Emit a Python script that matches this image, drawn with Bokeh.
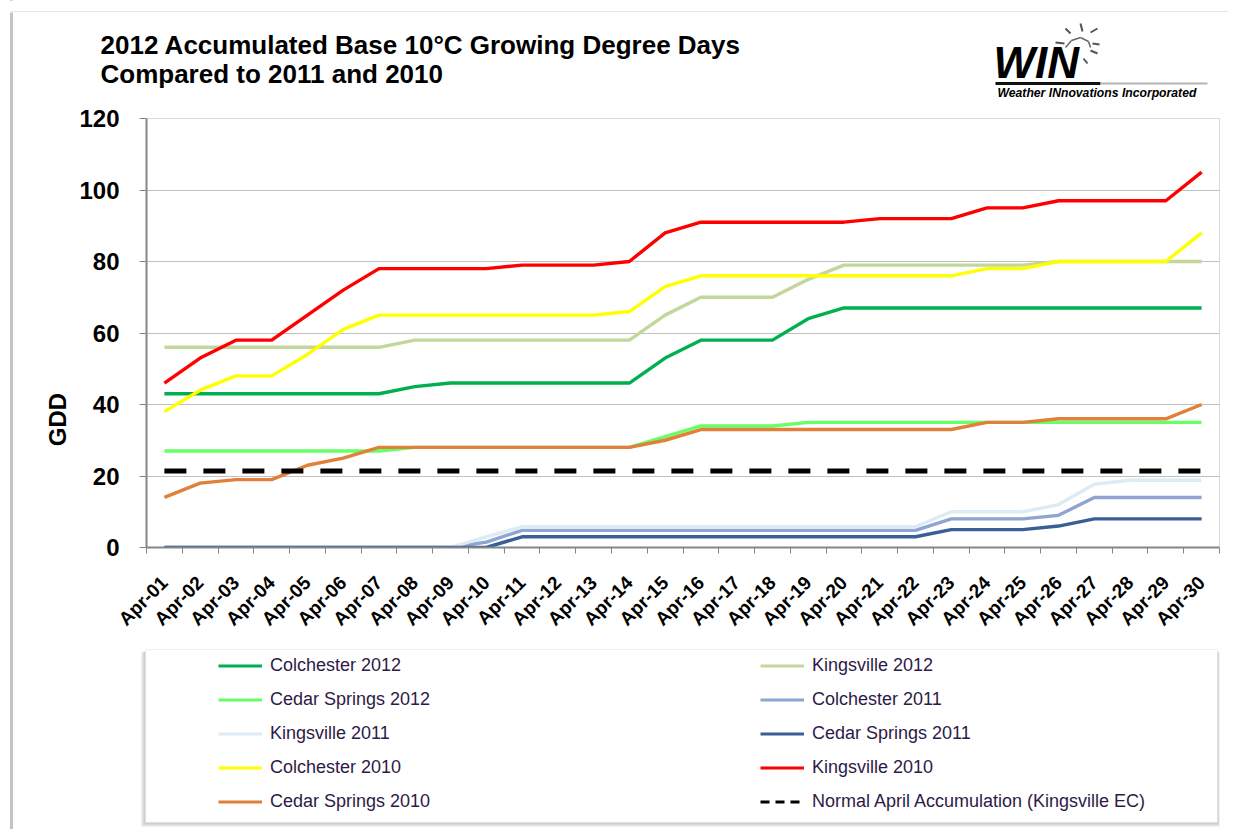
from bokeh.plotting import figure
from bokeh.models import Range1d, FixedTicker, Label, Legend, LegendItem, Arrow, BoxAnnotation
from bokeh.layouts import column, row
from bokeh.embed import file_html
from bokeh.resources import INLINE
import math

# ---------------- data ----------------
days = ["Apr-01", "Apr-02", "Apr-03", "Apr-04", "Apr-05", "Apr-06", "Apr-07", "Apr-08",
        "Apr-09", "Apr-10", "Apr-11", "Apr-12", "Apr-13", "Apr-14", "Apr-15", "Apr-16",
        "Apr-17", "Apr-18", "Apr-19", "Apr-20", "Apr-21", "Apr-22", "Apr-23", "Apr-24",
        "Apr-25", "Apr-26", "Apr-27", "Apr-28", "Apr-29", "Apr-30"]

colchester_2012 = [43, 43, 43, 43, 43, 43, 43, 45, 46, 46, 46, 46, 46, 46, 53,
                   58, 58, 58, 64, 67, 67, 67, 67, 67, 67, 67, 67, 67, 67, 67]
kingsville_2012 = [56, 56, 56, 56, 56, 56, 56, 58, 58, 58, 58, 58, 58, 58, 65,
                   70, 70, 70, 75, 79, 79, 79, 79, 79, 79, 80, 80, 80, 80, 80]
cedar_springs_2012 = [27, 27, 27, 27, 27, 27, 27, 28, 28, 28, 28, 28, 28, 28, 31,
                      34, 34, 34, 35, 35, 35, 35, 35, 35, 35, 35, 35, 35, 35, 35]
colchester_2011 = [0, 0, 0, 0, 0, 0, 0, 0, 0, 1.5, 4.8, 4.8, 4.8, 4.8, 4.8,
                   4.8, 4.8, 4.8, 4.8, 4.8, 4.8, 4.8, 8, 8, 8, 9, 14, 14, 14, 14]
kingsville_2011 = [0, 0, 0, 0, 0, 0, 0, 0, 0, 3, 5.8, 5.8, 5.8, 5.8, 5.8,
                   5.8, 5.8, 5.8, 5.8, 5.8, 5.8, 5.8, 10, 10, 10, 12, 17.7, 18.8, 18.8, 18.8]
cedar_springs_2011 = [0, 0, 0, 0, 0, 0, 0, 0, 0, 0, 3, 3, 3, 3, 3,
                      3, 3, 3, 3, 3, 3, 3, 5, 5, 5, 6, 8, 8, 8, 8]
colchester_2010 = [38, 44, 48, 48, 54, 61, 65, 65, 65, 65, 65, 65, 65, 66, 73,
                   76, 76, 76, 76, 76, 76, 76, 76, 78, 78, 80, 80, 80, 80, 88]
kingsville_2010 = [46, 53, 58, 58, 65, 72, 78, 78, 78, 78, 79, 79, 79, 80, 88,
                   91, 91, 91, 91, 91, 92, 92, 92, 95, 95, 97, 97, 97, 97, 105]
cedar_springs_2010 = [14, 18, 19, 19, 23, 25, 28, 28, 28, 28, 28, 28, 28, 28, 30,
                      33, 33, 33, 33, 33, 33, 33, 33, 35, 35, 36, 36, 36, 36, 40]
normal_april = [21.4, 21.4, 21.4, 21.4, 21.4, 21.4, 21.4, 21.4, 21.4, 21.4,
                21.4, 21.4, 21.4, 21.4, 21.4, 21.4, 21.4, 21.4, 21.4, 21.4,
                21.4, 21.4, 21.4, 21.4, 21.4, 21.4, 21.4, 21.4, 21.4, 21.4]

series_names = ["Colchester 2012", "Kingsville 2012", "Cedar Springs 2012",
                "Colchester 2011", "Kingsville 2011", "Cedar Springs 2011",
                "Colchester 2010", "Kingsville 2010", "Cedar Springs 2010"]
series_values = [colchester_2012, kingsville_2012, cedar_springs_2012,
                 colchester_2011, kingsville_2011, cedar_springs_2011,
                 colchester_2010, kingsville_2010, cedar_springs_2010]
series_colors = ["#00B050", "#C3D69B", "#66FF66",
                 "#8EA4D2", "#DCEBF4", "#3A5F96",
                 "#FFFF00", "#FF0000", "#E0803A"]
normal_name = "Normal April Accumulation (Kingsville EC)"
y_ticks = [0, 20, 40, 60, 80, 100, 120]

FONT = "Liberation Sans"
W = 1228


def seg(fig, x0, y0, x1, y1, color, width):
    fig.add_layout(Arrow(x_start=x0, y_start=y0, x_end=x1, y_end=y1,
                         start_units="screen", end_units="screen", end=None,
                         line_color=color, line_width=width))


def screen_box(fig, l, r, b, t, fill, line=None):
    fig.add_layout(BoxAnnotation(left=l, right=r, bottom=b, top=t,
                                 left_units="screen", right_units="screen",
                                 bottom_units="screen", top_units="screen",
                                 fill_color=fill, fill_alpha=1, line_color=line,
                                 line_width=1))


def blank(fig):
    fig.grid.visible = False
    fig.outline_line_color = None
    fig.background_fill_alpha = 0
    fig.border_fill_alpha = 0


# ---------------- header (title + logo) ----------------
p0 = figure(width=W, height=106, output_backend="svg", toolbar_location=None,
            x_range=Range1d(0, 1), y_range=Range1d(0, 1),
            x_axis_type=None, y_axis_type=None, min_border=0,
            min_border_left=0, min_border_right=0, min_border_top=0, min_border_bottom=0)
blank(p0)
screen_box(p0, 0, 20, 94, 106, "white")
seg(p0, 10, 95, W, 95, "#e6e6e6", 1)
p0.add_layout(Label(x=100, y=62, x_units="screen", y_units="screen",
                    text="2012 Accumulated Base 10°C Growing Degree Days",
                    text_font=FONT, text_font_style="bold", text_font_size="26px",
                    text_color="black", text_baseline="alphabetic"))
p0.add_layout(Label(x=100, y=33, x_units="screen", y_units="screen",
                    text="Compared to 2011 and 2010",
                    text_font=FONT, text_font_style="bold", text_font_size="26px",
                    text_color="black", text_baseline="alphabetic"))
p0.add_layout(Label(x=993, y=44, x_units="screen", y_units="screen", text="WIN",
                    text_font=FONT, text_font_style="bold italic", text_font_size="44px",
                    text_color="black", text_baseline="alphabetic"))
p0.add_layout(Label(x=997, y=14, x_units="screen", y_units="screen",
                    text="Weather INnovations Incorporated",
                    text_font=FONT, text_font_style="bold italic", text_font_size="12.2px",
                    text_color="black", text_baseline="alphabetic"))
seg(p0, 995, 23, 1100, 23, "#111111", 3)
seg(p0, 1100, 23, 1207, 23, "#b5b5b5", 2)
rays = [(1080, 83, 1082, 75), (1065, 78, 1070, 73), (1055, 64, 1064, 63),
        (1090, 74, 1097, 78), (1092, 63, 1099, 62), (1090, 56, 1097, 53),
        (1083, 48, 1087, 43)]
for r in rays:
    seg(p0, r[0], r[1], r[2], r[3], "#555555", 2)
arc = [(1065, 59, 1071, 66), (1071, 66, 1080, 69), (1080, 69, 1088, 65), (1088, 65, 1090, 59)]
for a in arc:
    seg(p0, a[0], a[1], a[2], a[3], "#666666", 1.5)

# ---------------- left strip (axis title) ----------------
pl = figure(width=75, height=542, output_backend="svg", toolbar_location=None,
            x_range=Range1d(0, 1), y_range=Range1d(0, 1),
            x_axis_type=None, y_axis_type=None, min_border=0,
            min_border_left=0, min_border_right=0, min_border_top=0, min_border_bottom=0)
blank(pl)
pl.add_layout(Label(x=57, y=128, x_units="screen", y_units="screen", text="GDD",
                    angle=math.pi / 2, text_align="center", text_baseline="middle",
                    text_font=FONT, text_font_style="bold", text_font_size="24px",
                    text_color="black"))

# ---------------- main figure ----------------
x_pos = [i + 1 for i in range(len(days))]
x_bounds = [i + 0.5 for i in range(len(days) + 1)]

p = figure(width=W - 75, height=542, output_backend="svg", toolbar_location=None,
           x_range=Range1d(0.5, len(days) + 0.5), y_range=Range1d(0, 120),
           min_border_left=71, min_border_right=9, min_border_top=12,
           min_border_bottom=101)
p.background_fill_color = "white"
p.border_fill_color = "white"
p.outline_line_color = "#d9d9d9"

p.xgrid.visible = False
p.ygrid.ticker = FixedTicker(ticks=y_ticks)
p.ygrid.grid_line_color = "#c0c0c0"
p.ygrid.grid_line_width = 1

xa = p.xaxis[0]
xa.ticker = FixedTicker(ticks=x_pos, minor_ticks=x_bounds)
xa.major_label_overrides = {x: d for x, d in zip(x_pos, days)}
xa.major_tick_out = 0
xa.major_tick_in = 0
xa.minor_tick_out = 6
xa.minor_tick_in = 0
xa.minor_tick_line_color = "#868686"
xa.axis_line_color = "#868686"
xa.axis_line_width = 2
xa.major_label_orientation = math.pi / 4
xa.major_label_text_font = FONT
xa.major_label_text_font_style = "bold"
xa.major_label_text_font_size = "19px"
xa.major_label_text_color = "black"
xa.major_label_standoff = 26

ya = p.yaxis[0]
ya.ticker = FixedTicker(ticks=y_ticks)
ya.major_tick_out = 7
ya.major_tick_in = 0
ya.minor_tick_out = 0
ya.minor_tick_in = 0
ya.major_tick_line_color = "#868686"
ya.axis_line_color = "#868686"
ya.axis_line_width = 2
ya.major_label_text_font = FONT
ya.major_label_text_font_style = "bold"
ya.major_label_text_font_size = "24px"
ya.major_label_text_color = "black"
ya.major_label_standoff = 20

for name, vals, col in zip(series_names, series_values, series_colors):
    p.line(x_pos, vals, line_color=col, line_width=3.4, line_join="round")
p.line(x_pos, normal_april, line_color="black", line_width=5, line_dash="22 17")

# ---------------- legend box ----------------
p2 = figure(width=W, height=181, output_backend="svg", toolbar_location=None,
            x_range=Range1d(0, 1), y_range=Range1d(0, 1),
            x_axis_type=None, y_axis_type=None, min_border=0,
            min_border_left=0, min_border_right=0, min_border_top=0, min_border_bottom=0)
blank(p2)
screen_box(p2, 141, 1219, 3, 177, "#e2e2e2")
screen_box(p2, 143, 1218, 5, 178, "#cfcfcf")
screen_box(p2, 145, 1217, 7, 180, "white", "#d0d0d0")

nan = float("nan")
leg_renderers = []
for col in series_colors:
    leg_renderers.append(p2.line([nan], [nan], line_color=col, line_width=3))
leg_normal = p2.line([nan], [nan], line_color="black", line_width=3, line_dash="9 6")

items = [LegendItem(label=n, renderers=[r]) for n, r in zip(series_names, leg_renderers)]
items.append(LegendItem(label=normal_name, renderers=[leg_normal]))
left_items = items[0::2]
right_items = items[1::2]


def make_legend(its, loc):
    return Legend(items=its, location=loc, orientation="vertical",
                  border_line_color=None, background_fill_alpha=0,
                  padding=0, margin=0, spacing=13, label_height=21, glyph_height=21,
                  glyph_width=44, label_standoff=8,
                  label_text_font=FONT, label_text_font_size="18px",
                  label_text_color="#2e1a47")


p2.add_layout(make_legend(left_items, (218, 17)))
p2.add_layout(make_legend(right_items, (760, 17)))

layout = column(p0, row(pl, p, spacing=0), p2, spacing=0)
layout.styles = {"background": "linear-gradient(to right, #ffffff 10px, #c4c4c4 10px, "
                               "#c4c4c4 13px, #ffffff 13px)"}
open("out.html", "w").write(file_html(layout, INLINE))
